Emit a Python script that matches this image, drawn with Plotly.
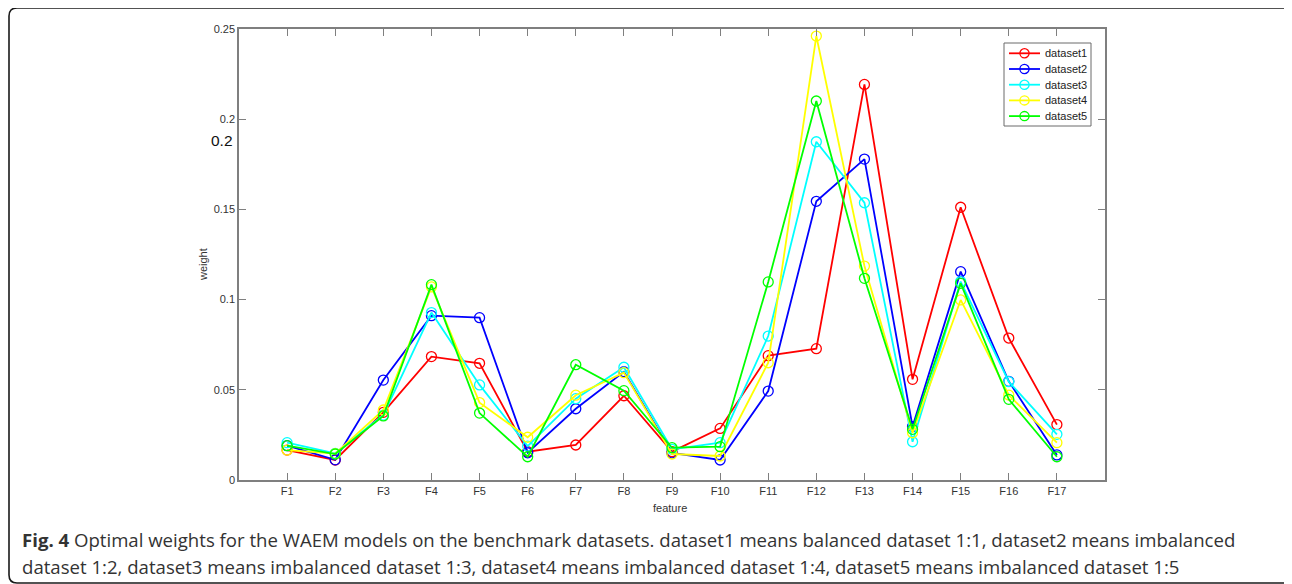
import plotly.graph_objects as go

features = [f"F{i}" for i in range(1, 18)]
positions = list(range(1, 18))

dataset1 = [0.0166, 0.0111, 0.0375, 0.0684, 0.0647, 0.0157, 0.0194, 0.0467, 0.0157, 0.0286,
            0.0689, 0.0728, 0.2193, 0.0558, 0.1512, 0.0787, 0.0307]
dataset2 = [0.0190, 0.0112, 0.0554, 0.0911, 0.0900, 0.0151, 0.0395, 0.0600, 0.0150, 0.0111,
            0.0493, 0.1545, 0.1779, 0.0296, 0.1155, 0.0547, 0.0139]
dataset3 = [0.0207, 0.0148, 0.0360, 0.0928, 0.0527, 0.0188, 0.0451, 0.0625, 0.0170, 0.0207,
            0.0798, 0.1875, 0.1537, 0.0212, 0.1100, 0.0545, 0.0253]
dataset4 = [0.0166, 0.0146, 0.0388, 0.1070, 0.0429, 0.0237, 0.0470, 0.0595, 0.0144, 0.0133,
            0.0650, 0.2461, 0.1186, 0.0262, 0.0998, 0.0471, 0.0207]
dataset5 = [0.0190, 0.0144, 0.0355, 0.1083, 0.0371, 0.0129, 0.0639, 0.0495, 0.0179, 0.0185,
            0.1098, 0.2101, 0.1118, 0.0281, 0.1090, 0.0447, 0.0129]

series_names = ["dataset1", "dataset2", "dataset3", "dataset4", "dataset5"]
series_values = [dataset1, dataset2, dataset3, dataset4, dataset5]
series_colors = ["#ff0000", "#0000ff", "#00ffff", "#ffff00", "#00ff00"]

caption_line1 = ("<b>Fig. 4</b> Optimal weights for the WAEM models on the benchmark datasets. "
                 "dataset1 means balanced dataset 1:1, dataset2 means imbalanced")
caption_line2 = ("dataset 1:2, dataset3 means imbalanced dataset 1:3, dataset4 means imbalanced "
                 "dataset 1:4, dataset5 means imbalanced dataset 1:5")

# page body has an 8px margin; work in screen pixels and convert
OFF = 8
W, H = 1292 - OFF, 584 - OFF
L, R, T, B = 239, 1105, 29, 480  # plot area in screen pixels


def px(x):
    return (x - L) / (R - L)


def py(y):
    return (B - y) / (B - T)


fig = go.Figure()
for name, vals, col in zip(series_names, series_values, series_colors):
    fig.add_trace(go.Scatter(
        x=positions, y=vals, name=name, mode="lines+markers",
        line=dict(color=col, width=1.8),
        marker=dict(symbol="circle-open", size=10, color=col, line=dict(width=1.3, color=col)),
        showlegend=False,
    ))

axis_common = dict(
    showline=True, linecolor="#7f7f7f", linewidth=1.5, mirror="allticks",
    ticks="inside", ticklen=7, tickcolor="#7f7f7f", tickwidth=1,
    showgrid=False, zeroline=False,
    tickfont=dict(family="Liberation Sans, Arial", size=11, color="#333333"),
)

fig.update_xaxes(range=[0, 18], tickvals=positions, ticktext=features, **axis_common)
fig.update_yaxes(range=[0, 0.25], tickvals=[0, 0.05, 0.1, 0.15, 0.2, 0.25],
                 ticktext=["0", "0.05", "0.1", "0.15", "0.2", "0.25"], **axis_common)

shapes = []
# rounded outer frame
shapes.append(dict(
    type="path",
    path=(f"M {px(1291)},{py(600)} L {px(1291)},{py(16)} Q {px(1291)},{py(8)} {px(1283)},{py(8)} "
          f"L {px(17)},{py(8)} Q {px(9)},{py(8)} {px(9)},{py(16)} L {px(9)},{py(575)} "
          f"Q {px(9)},{py(583)} {px(17)},{py(583)} L {px(1291)},{py(583)}"),
    line=dict(color="#1a1a1a", width=1.6),
))

annotations = [
    dict(x=px(670), y=py(508), text="feature",
         font=dict(family="Liberation Sans, Arial", size=11, color="#333333")),
    dict(x=px(203), y=py(265), text="weight", textangle=-90,
         font=dict(family="Liberation Sans, Arial", size=11, color="#333333")),
    dict(x=px(222), y=py(140), text="0.2",
         font=dict(family="Liberation Sans, Arial", size=15.5, color="#111111")),
    dict(x=px(20), y=py(539), xanchor="left", text=caption_line1,
         font=dict(family="Open Sans", size=18.6, color="#333333")),
    dict(x=px(20), y=py(566), xanchor="left", text=caption_line2,
         font=dict(family="Open Sans", size=18.6, color="#333333")),
]

# manual legend (MATLAB style, compact rows)
shapes.append(dict(type="rect", x0=px(1004), x1=px(1091), y0=py(43), y1=py(126),
                   line=dict(color="#6a6a6a", width=1), fillcolor="white", layer="above"))
row_y = [53.3, 69.0, 84.7, 100.4, 116.1]
for name, col, yy in zip(series_names, series_colors, row_y):
    shapes.append(dict(type="line", x0=px(1009), x1=px(1040), y0=py(yy), y1=py(yy),
                       line=dict(color=col, width=1.8), layer="above"))
    shapes.append(dict(type="circle", x0=px(1024.5 - 4.6), x1=px(1024.5 + 4.6),
                       y0=py(yy - 4.6), y1=py(yy + 4.6),
                       line=dict(color=col, width=1.3), layer="above"))
    annotations.append(dict(x=px(1043), y=py(yy), xanchor="left", text=name,
                            font=dict(family="Liberation Sans, Arial", size=11, color="#222222")))

for a in annotations:
    a.setdefault("xanchor", "center")
    a.update(xref="paper", yref="paper", showarrow=False, yanchor="middle")
for s in shapes:
    s.update(xref="paper", yref="paper")

fig.update_layout(
    width=W, height=H,
    margin=dict(l=L - OFF, r=W - (R - OFF), t=T - OFF, b=H - (B - OFF), autoexpand=False),
    paper_bgcolor="white", plot_bgcolor="white",
    showlegend=False,
    annotations=annotations,
    shapes=shapes,
)

fig.write_html("out.html")
